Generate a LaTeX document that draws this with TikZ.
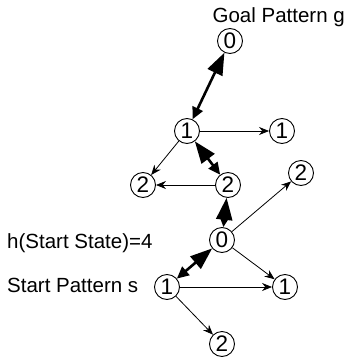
\documentclass[tikz,border=0pt]{standalone}
\usepackage{fontspec}
\setmainfont{Liberation Sans}
\usetikzlibrary{arrows.meta}
\tikzset{
  st/.style={circle,draw,line width=0.9pt,minimum size=25pt,inner sep=0pt,font=\fontsize{22.5}{24}\selectfont},
  lbl/.style={inner sep=0pt,font=\fontsize{20.5}{24}\selectfont},
  thin arrow/.style={line width=0.8pt,-{Stealth[length=10pt,width=8pt]}},
  thick arrow/.style={line width=2.6pt,{Triangle[length=12pt,width=11pt]}-{Triangle[length=22pt,width=16pt]}}
}
\begin{document}
\begin{tikzpicture}[x=1pt,y=-1pt]
\useasboundingbox (0,0) rectangle (347,364);
\node[st] (g0) at (230,41) {0};
\node[st] (a1) at (187,131) {1};
\node[st] (a1r) at (282,131) {1};
\node[st] (b2l) at (143,185) {2};
\node[st] (b2) at (228,185) {2};
\node[st] (c2) at (301,173) {2};
\node[st] (s0) at (222,240) {0};
\node[st] (s1) at (167,287) {1};
\node[st] (s1r) at (285,287) {1};
\node[st] (s2) at (222,344) {2};
\node[lbl,anchor=east] (goal) at (345,17) {Goal Pattern g};
\node[lbl,anchor=west] (h) at (7,243) {h(Start State)=4};
\node[lbl,anchor=west] (sp) at (7,285) {Start Pattern s};
\draw[thick arrow] (a1) -- (g0);
\draw[thick arrow] (b2) -- (a1);
\draw[thick arrow] (s0) -- (b2);
\draw[thick arrow] (s1) -- (s0);
\draw[thin arrow] (a1) -- (a1r);
\draw[thin arrow] (a1) -- (b2l);
\draw[thin arrow] (b2) -- (b2l);
\draw[thin arrow] (s0) -- (c2);
\draw[thin arrow] (s0) -- (s1r);
\draw[thin arrow] (s1) -- (s1r);
\draw[thin arrow] (s1) -- (s2);
\end{tikzpicture}
\end{document}
